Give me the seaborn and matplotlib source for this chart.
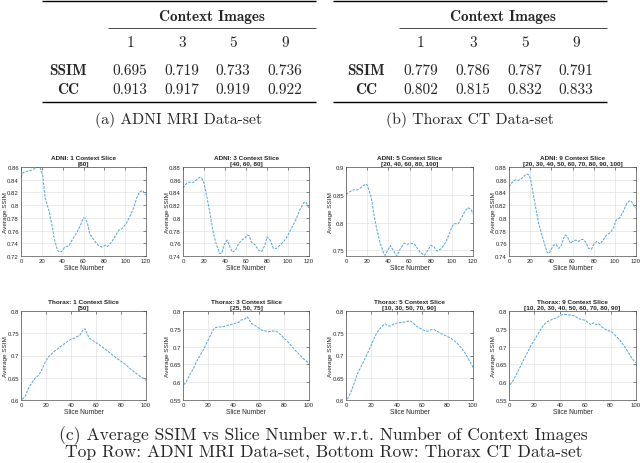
import numpy as np
import pandas as pd
import matplotlib
matplotlib.use("Agg")
import matplotlib.pyplot as plt
import seaborn as sns

# ---------------- table data ----------------
ctx_counts = ["1", "3", "5", "9"]
metrics = ["SSIM", "CC"]
adni_ssim = [0.695, 0.719, 0.733, 0.736]
adni_cc = [0.913, 0.917, 0.919, 0.922]
thorax_ssim = [0.779, 0.786, 0.787, 0.791]
thorax_cc = [0.802, 0.815, 0.832, 0.833]

# ---------------- curve data ----------------
adni1_x = [0, 2, 6, 10, 15, 18, 19, 21, 23, 27, 30, 32, 35, 37, 39, 42, 46, 49, 54, 57,
           60, 62, 64, 66, 70, 74, 78, 81, 83, 87, 90, 94, 97, 101, 105, 108, 111, 114, 117, 119, 120]
adni1_y = [0.844, 0.851, 0.853, 0.855, 0.859, 0.860, 0.856, 0.845, 0.813, 0.790,
           0.766, 0.747, 0.729, 0.726, 0.727, 0.734, 0.736, 0.745, 0.758, 0.768,
           0.780, 0.779, 0.770, 0.755, 0.745, 0.737, 0.734, 0.737, 0.735, 0.742,
           0.750, 0.761, 0.763, 0.771, 0.784, 0.795, 0.811, 0.821, 0.823, 0.817, 0.816]

adni3_x = [0, 2, 5, 10, 13, 16, 18, 20, 23, 26, 29, 32, 35, 37, 39, 42, 44, 47, 50, 52,
           56, 59, 61, 63, 65, 69, 72, 75, 78, 80, 83, 86, 89, 93, 97, 100, 104, 108, 111, 115,
           117, 119, 120]
adni3_y = [0.847, 0.852, 0.856, 0.856, 0.860, 0.864, 0.862, 0.855, 0.831, 0.804,
           0.775, 0.757, 0.744, 0.744, 0.757, 0.765, 0.757, 0.746, 0.749, 0.757,
           0.765, 0.768, 0.773, 0.772, 0.762, 0.757, 0.749, 0.747, 0.757, 0.770,
           0.765, 0.752, 0.752, 0.758, 0.765, 0.773, 0.786, 0.799, 0.812, 0.824,
           0.825, 0.818, 0.815]

adni5_x = [0, 4, 7, 11, 14, 18, 20, 22, 24, 26, 29, 32, 36, 37, 39, 42, 45, 48, 51, 55,
           58, 61, 65, 67, 70, 74, 77, 80, 83, 86, 90, 94, 97, 100, 102, 106, 109, 112, 115, 118, 120]
adni5_y = [0.851, 0.856, 0.859, 0.859, 0.863, 0.869, 0.868, 0.856, 0.844, 0.819,
           0.789, 0.765, 0.743, 0.741, 0.749, 0.759, 0.749, 0.740, 0.752, 0.763,
           0.761, 0.763, 0.761, 0.755, 0.747, 0.741, 0.749, 0.759, 0.757, 0.749,
           0.753, 0.764, 0.777, 0.792, 0.798, 0.798, 0.808, 0.819, 0.827, 0.824, 0.816]

adni9_x = [0, 2.5, 6, 9, 12, 15, 17, 19, 20.5, 22.5, 25, 28, 31, 34, 36, 38, 39.5, 42, 44.5, 47,
           49, 51, 53, 55, 58, 60, 63, 66, 68, 70, 73, 75, 78, 80.5, 83, 86, 89, 92, 96, 99,
           101, 104.5, 108, 111, 114, 116, 118, 120]
adni9_y = [0.849, 0.855, 0.860, 0.859, 0.862, 0.867, 0.869, 0.867, 0.860, 0.841,
           0.818, 0.791, 0.773, 0.757, 0.746, 0.744, 0.749, 0.757, 0.758, 0.752,
           0.755, 0.765, 0.773, 0.771, 0.760, 0.763, 0.765, 0.763, 0.766, 0.766,
           0.761, 0.752, 0.751, 0.760, 0.763, 0.759, 0.765, 0.773, 0.777, 0.785,
           0.796, 0.800, 0.810, 0.822, 0.827, 0.825, 0.819, 0.815]

thorax1_x = [1, 3.5, 6, 9, 11.5, 14, 17, 19.5, 22, 25, 27.5, 29, 31.5, 35.5, 39.5, 43.5, 47.5, 50, 51.5, 53,
             55.5, 59.5, 63.5, 67.5, 71.5, 75.5, 79.5, 83.5, 87.5, 91.5, 95.5, 100]
thorax1_y = [0.6015, 0.609, 0.627, 0.640, 0.650, 0.655, 0.670, 0.686, 0.697, 0.705,
             0.711, 0.714, 0.720, 0.728, 0.736, 0.740, 0.747, 0.760, 0.759, 0.747,
             0.737, 0.730, 0.722, 0.714, 0.705, 0.696, 0.688, 0.680, 0.670, 0.661,
             0.653, 0.644]

thorax3_x = [0.5, 2.7, 5.3, 8, 10.6, 13.3, 16, 18.6, 21.2, 23.3, 25.2, 28, 32, 36, 40, 44, 46.4, 49, 51, 52.5,
             54.4, 57, 59.7, 62.3, 65, 67.6, 70.3, 72, 74.3, 77, 80, 83, 86, 89, 92, 95, 98, 100]
thorax3_y = [0.5925, 0.602, 0.621, 0.636, 0.657, 0.674, 0.690, 0.709, 0.727, 0.743,
             0.753, 0.755, 0.756, 0.760, 0.764, 0.768, 0.775, 0.777, 0.784, 0.775,
             0.765, 0.760, 0.753, 0.746, 0.744, 0.742, 0.743, 0.744, 0.743, 0.735,
             0.725, 0.714, 0.702, 0.690, 0.679, 0.668, 0.659, 0.652]

thorax5_x = [1, 3.4, 6, 8.7, 11.3, 13.9, 16.5, 19, 21.8, 24.4, 27, 29.7, 31, 32.8, 35, 37.5, 41.5, 45.4, 48, 50.6,
             52.8, 55.4, 58.5, 61.7, 64.3, 67, 69.5, 72, 75.6, 79.5, 82.7, 85.3, 88, 90.5, 93.2, 95.8, 98, 100]
thorax5_y = [0.602, 0.615, 0.634, 0.657, 0.672, 0.687, 0.702, 0.718, 0.736, 0.752,
             0.761, 0.769, 0.771, 0.767, 0.766, 0.771, 0.7735, 0.775, 0.7765, 0.778,
             0.7735, 0.766, 0.761, 0.756, 0.7545, 0.758, 0.758, 0.754, 0.7485, 0.743,
             0.7386, 0.733, 0.726, 0.718, 0.708, 0.6955, 0.684, 0.673]

thorax9_x = [0.8, 3.4, 6, 8.7, 11.3, 14, 16.6, 19.2, 21.8, 24.5, 27, 29.7, 32.4, 35, 37.6, 40.3, 43, 46, 49.5, 52,
             54.7, 57.4, 60, 62.6, 64.5, 66.6, 68.7, 70.5, 72.4, 75, 77.6, 80.3, 82.4, 85, 87.6, 90.3, 93, 95.5, 98.2, 100]
thorax9_y = [0.5925, 0.605, 0.6235, 0.642, 0.661, 0.680, 0.6985, 0.714, 0.7295, 0.7455,
             0.7596, 0.769, 0.7737, 0.7784, 0.7803, 0.7878, 0.7906, 0.7897, 0.7878, 0.7859,
             0.7784, 0.7765, 0.7737, 0.7671, 0.7615, 0.7671, 0.7615, 0.7643, 0.7578, 0.7502,
             0.7455, 0.7427, 0.7361, 0.7267, 0.7173, 0.7032, 0.6891, 0.675, 0.6609, 0.6543]

adni_slices = [[60], [40, 60, 80], [20, 40, 60, 80, 100], [20, 30, 40, 50, 60, 70, 80, 90, 100]]
thorax_slices = [[50], [25, 50, 75], [10, 30, 50, 70, 90], [10, 20, 30, 40, 50, 60, 70, 80, 90]]

adni_xticks = [0, 20, 40, 60, 80, 100, 120]
thorax_xticks = [0, 20, 40, 60, 80, 100]
adni_yticks = [[0.72, 0.74, 0.76, 0.78, 0.8, 0.82, 0.84, 0.86],
               [0.74, 0.76, 0.78, 0.8, 0.82, 0.84, 0.86, 0.88],
               [0.75, 0.8, 0.85, 0.9],
               [0.74, 0.76, 0.78, 0.8, 0.82, 0.84, 0.86, 0.88]]
thorax_yticks = [[0.6, 0.65, 0.7, 0.75, 0.8],
                 [0.55, 0.6, 0.65, 0.7, 0.75, 0.8],
                 [0.6, 0.65, 0.7, 0.75, 0.8],
                 [0.55, 0.6, 0.65, 0.7, 0.75, 0.8]]
adni_ylims = [(0.72, 0.86), (0.74, 0.88), (0.74, 0.90), (0.74, 0.88)]
thorax_ylims = [(0.6, 0.8), (0.55, 0.8), (0.6, 0.8), (0.55, 0.8)]

# ---------------- figure ----------------
sns.set_style("white")
plt.rcParams["font.family"] = ["Liberation Sans", "DejaVu Sans"]

W, H = 640, 464
fig = plt.figure(figsize=(6.4, 4.64), dpi=100)

ov = fig.add_axes([0, 0, 1, 1])
ov.set_xlim(0, W)
ov.set_ylim(H, 0)
ov.axis("off")

RM = "cmr10"
BF = "cmb10"
TS = 11
CS = 11.3


def draw_table(x0, x1, xp, xlab, xcols, ssim, cc, caption, capx):
    ov.plot([x0, x1], [2, 2], color="black", lw=1.0, solid_capstyle="butt")
    ov.text((xp + x1) / 2, 20.5, "Context Images", family=BF, size=TS, ha="center", va="baseline")
    ov.plot([xp, x1], [29, 29], color="black", lw=0.5, solid_capstyle="butt")
    for xc, lab in zip(xcols, ctx_counts):
        ov.text(xc, 47, lab, family=RM, size=TS, ha="center", va="baseline")
    for yb, name, vals in [(75, metrics[0], ssim), (94, metrics[1], cc)]:
        ov.text(xlab, yb, name, family=BF, size=TS, ha="center", va="baseline")
        for xc, v in zip(xcols, vals):
            ov.text(xc, yb, f"{v:.3f}", family=RM, size=TS, ha="center", va="baseline")
    ov.plot([x0, x1], [103, 103], color="black", lw=1.0, solid_capstyle="butt")
    ov.text(capx, 124.5, caption, family=RM, size=CS, ha="center", va="baseline")


draw_table(42, 316, 108, 68, [130, 182, 233, 285], adni_ssim, adni_cc,
           "(a) ADNI MRI Data-set", 179)
draw_table(333, 607, 399, 366, [421, 473, 525, 576], thorax_ssim, thorax_cc,
           "(b) Thorax CT Data-set", 470)

ov.text(323.5, 440, "(c) Average SSIM vs Slice Number w.r.t. Number of Context Images",
        family=RM, size=12.6, ha="center", va="baseline")
ov.text(323.5, 457, "Top Row: ADNI MRI Data-set, Bottom Row: Thorax CT Data-set",
        family=RM, size=12.6, ha="center", va="baseline")

LINE_COLOR = "#59a9e0"
cols_px = [(21, 146), (183, 309), (346, 473), (509, 636)]
rows_px = [(168, 257), (312, 401)]


def add_ax(l, r, t, b):
    return fig.add_axes([l / W, 1 - b / H, (r - l) / W, (b - t) / H])


def fmt(v):
    return f"{v:g}"


def panel(ax, xs, ys, title, xlim, xticks, ylim, yticks, width_px):
    df = pd.DataFrame({"Slice": xs, "SSIM": ys})
    sns.lineplot(data=df, x="Slice", y="SSIM", ax=ax, color=LINE_COLOR, lw=0.75,
                 linestyle=(0, (2.5, 1.2)), sort=True, estimator=None)
    ax.set_xlim(*xlim)
    ax.set_ylim(*ylim)
    ax.set_xticks(xticks)
    ax.set_xticklabels([fmt(t) for t in xticks])
    ax.set_yticks(yticks)
    ax.set_yticklabels([fmt(t) for t in yticks])
    ax.grid(True, color="#e3e3e3", lw=0.5)
    for s in ax.spines.values():
        s.set_color("#4d4d4d")
        s.set_linewidth(0.5)
        s.set_visible(True)
    ax.tick_params(direction="in", length=2, width=0.4, labelsize=4.3, pad=1.5,
                   top=True, right=True, colors="#333333", labelcolor="#262626")
    ax.set_xlabel("Slice Number", fontsize=4.8, labelpad=1, color="#262626")
    ax.set_ylabel("Average SSIM", fontsize=4.6, color="#262626")
    ax.yaxis.set_label_coords(-13.3 / width_px, 0.5)
    ax.set_title(title, fontsize=4.6, fontweight="bold", pad=1.5, linespacing=1.25)


adni_data = [(adni1_x, adni1_y), (adni3_x, adni3_y), (adni5_x, adni5_y), (adni9_x, adni9_y)]
thorax_data = [(thorax1_x, thorax1_y), (thorax3_x, thorax3_y), (thorax5_x, thorax5_y), (thorax9_x, thorax9_y)]

for i, ((l, r), (xs, ys)) in enumerate(zip(cols_px, adni_data)):
    ax = add_ax(l, r, *rows_px[0])
    title = f"ADNI: {ctx_counts[i]} Context Slice\n[{', '.join(str(s) for s in adni_slices[i])}]"
    panel(ax, xs, ys, title, (0, 120), adni_xticks, adni_ylims[i], adni_yticks[i], r - l)

for i, ((l, r), (xs, ys)) in enumerate(zip(cols_px, thorax_data)):
    ax = add_ax(l, r, *rows_px[1])
    title = f"Thorax: {ctx_counts[i]} Context Slice\n[{', '.join(str(s) for s in thorax_slices[i])}]"
    panel(ax, xs, ys, title, (0, 100), thorax_xticks, thorax_ylims[i], thorax_yticks[i], r - l)

fig.savefig("out.png", dpi=100)
